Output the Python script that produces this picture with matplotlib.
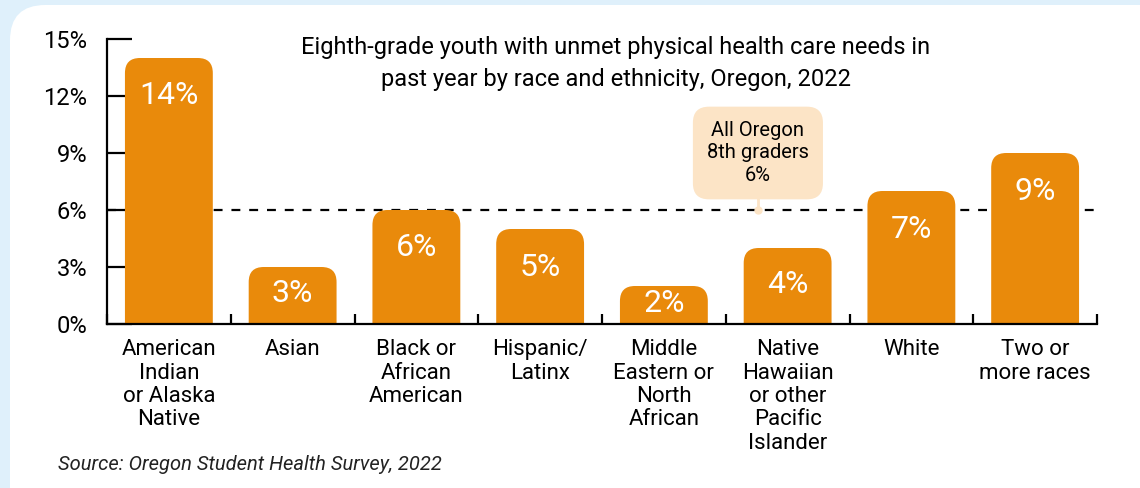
"""Bar chart: eighth-grade youth with unmet physical health care needs"""

import matplotlib
matplotlib.use("Agg")
from matplotlib import pyplot as plt
from matplotlib.patches import FancyBboxPatch

# Data
categories = [
    "American\nIndian\nor Alaska\nNative",
    "Asian",
    "Black or\nAfrican\nAmerican",
    "Hispanic/\nLatinx",
    "Middle\nEastern or\nNorth\nAfrican",
    "Native\nHawaiian\nor other\nPacific\nIslander",
    "White",
    "Two or\nmore races",
]
values = [14, 3, 6, 5, 2, 4, 7, 9]
state_avg = 6
y_ticks = [0, 3, 6, 9, 12, 15]
title = ("Eighth-grade youth with unmet physical health care needs in\n"
         "past year by race and ethnicity, Oregon, 2022")
avg_label = "All Oregon\n8th graders\n6%"
source = "Source: Oregon Student Health Survey, 2022"

ORANGE = "#E98A0B"
PEACH = "#FCE4C6"
BG = "#DFF0FB"

plt.rcParams["font.family"] = ["Roboto", "DejaVu Sans"]

W, H = 1140, 488
fig = plt.figure(figsize=(W / 100, H / 100), dpi=100, facecolor=BG)

# White rounded panel
panel = FancyBboxPatch((10 / W, -0.2), 1.2, 1.2 - 5 / H,
                       boxstyle="round,pad=0,rounding_size=0.031",
                       mutation_aspect=W / H, transform=fig.transFigure,
                       facecolor="white", edgecolor="none", zorder=-10)
fig.patches.append(panel)

left, right, bottom, top = 107, 1097, 324, 39
ax = fig.add_axes([left / W, 1 - bottom / H, (right - left) / W, (bottom - top) / H])
ax.set_facecolor("none")
ax.set_xlim(-0.5, len(values) - 0.5)
ax.set_ylim(0, 15)

# rounding of bar tops in data units
px_x = (right - left) / len(values)
px_y = (bottom - top) / 15
r_x = 15 / px_x
aspect = (15 / px_y) / r_x

bar_w = 0.71
for i, v in enumerate(values):
    p = FancyBboxPatch((i - bar_w / 2, -2), bar_w, v + 2,
                       boxstyle=f"round,pad=0,rounding_size={r_x}",
                       mutation_aspect=aspect, facecolor=ORANGE,
                       edgecolor="none", zorder=3)
    ax.add_patch(p)
    ty = max(v - 2, v / 2 + 0.1)
    ax.text(i, ty, f"{v}%", ha="center", va="center", color="white",
            fontsize=23, zorder=4)

# State average line with callout
callout_x = 4.76
ax.axhline(state_avg, color="black", lw=1.6, ls=(0, (4, 4)), zorder=2)
ax.plot([callout_x, callout_x], [state_avg, state_avg + 1.0], color=PEACH,
        lw=2, zorder=2.5)
ax.plot([callout_x], [state_avg], marker="o", ms=5, color=PEACH, zorder=2.5)
ax.text(callout_x, 9.0, avg_label, ha="center", va="center", fontsize=14.5,
        linespacing=1.25, zorder=5,
        bbox=dict(boxstyle="round,pad=0.7,rounding_size=0.8",
                  facecolor=PEACH, edgecolor="none"))

# Axes styling
for s in ["top", "right"]:
    ax.spines[s].set_visible(False)
for s in ["left", "bottom"]:
    ax.spines[s].set_linewidth(1.6)
    ax.spines[s].set_zorder(5)

ax.set_yticks(y_ticks)
ax.set_yticklabels([f"{t}%" for t in y_ticks])
ax.tick_params(axis="y", direction="in", length=18, width=1.6, pad=14,
               labelsize=17)

ax.set_xticks(range(len(values)))
ax.set_xticklabels(categories, fontsize=16, linespacing=1.15, va="top")
ax.set_xticks([i - 0.5 for i in range(len(values) + 1)], minor=True)
ax.tick_params(axis="x", which="major", length=0, pad=11)
ax.tick_params(axis="x", which="minor", direction="in", length=7, width=1.6)

fig.text(616 / W, 1 - 63.5 / H, title, ha="center", va="center",
         fontsize=17, linespacing=1.5)
fig.text(58 / W, 1 - 464 / H, source, ha="left", va="center",
         fontsize=14.5, style="italic", color="#222222")

fig.savefig("out.png", dpi=100, facecolor=BG)
